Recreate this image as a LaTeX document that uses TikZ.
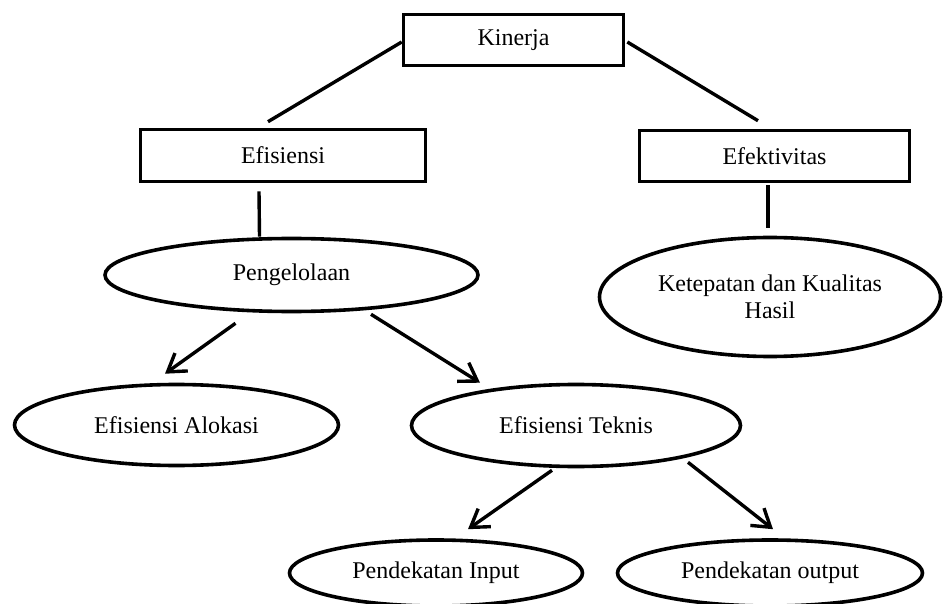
\documentclass[tikz,border=0pt]{standalone}
\usepackage{fontspec}
\setmainfont{Liberation Serif}
\usetikzlibrary{shapes.geometric,arrows.meta,calc}
\begin{document}
\begin{tikzpicture}[x=1pt,y=-1pt,
  box/.style={draw, line width=3.6pt, rectangle, inner sep=0pt, font=\fontsize{24}{27}\selectfont},
  oval/.style={draw, line width=3.6pt, ellipse, inner sep=0pt, align=center, font=\fontsize{24}{27}\selectfont},
  link/.style={line width=3.4pt},
  arr/.style={line width=3.4pt, -{Straight Barb[length=17pt,width=22pt]}}]
\useasboundingbox (0,0) rectangle (943,604);
\clip (0,0) rectangle (943,604);
% nodes
\node[box, minimum width=220pt, minimum height=51pt] (kin) at (513.5,40) {Kinerja};
\node[box, minimum width=285pt, minimum height=52pt] (efi) at (283,155.5) {Efisiensi};
\node[box, minimum width=270pt, minimum height=51pt] (eft) at (774.5,156) {Efektivitas};
\node[oval, minimum width=373pt, minimum height=73pt] (peng) at (291.5,275) {Pengelolaan};
\node[oval, minimum width=341pt, minimum height=119pt] (ket) at (770,297) {Ketepatan dan Kualitas\\Hasil};
\node[oval, minimum width=324pt, minimum height=81pt] (alo) at (176.5,425) {Efisiensi Alokasi};
\node[oval, minimum width=329pt, minimum height=82pt] (tek) at (576,425.5) {Efisiensi Teknis};
\node[oval, minimum width=293pt, minimum height=66pt] (inp) at (436,573) {Pendekatan Input};
\node[oval, minimum width=305pt, minimum height=66pt] (out) at (770,573) {Pendekatan output};
% connector ends
\coordinate (k1) at ($(kin.west)+(0,2)$);
\coordinate (e1) at ($(efi.north)+(-15,-6)$);
\coordinate (k2) at ($(kin.east)+(2,2)$);
\coordinate (f1) at ($(eft.north)+(-16.5,-8)$);
\coordinate (e2) at ($(efi.south)+(-24,8)$);
\coordinate (p1) at ($(peng.north)+(-32,0)$);
\coordinate (f2) at ($(eft.south)+(-6.5,2)$);
\coordinate (q1) at ($(ket.north)+(-2,-8)$);
\coordinate (p2) at ($(peng.south)+(-56,10)$);
\coordinate (a1) at ($(alo.north)+(-11.5,-9)$);
\coordinate (p3) at ($(peng.south)+(79.5,1)$);
\coordinate (t1) at ($(tek.north)+(-96,0)$);
\coordinate (t2) at ($(tek.south)+(-24,2)$);
\coordinate (i1) at ($(inp.north)+(32,-9)$);
\coordinate (t3) at ($(tek.south)+(112,-6)$);
\coordinate (o1) at ($(out.north)+(3,-9)$);
% connectors
\draw[link] (k1) -- (e1);
\draw[link] (k2) -- (f1);
\draw[link] (e2) -- (p1);
\draw[link] (f2) -- (q1);
\draw[arr] (p2) -- (a1);
\draw[arr] (p3) -- (t1);
\draw[arr] (t2) -- (i1);
\draw[arr] (t3) -- (o1);
\end{tikzpicture}
\end{document}
